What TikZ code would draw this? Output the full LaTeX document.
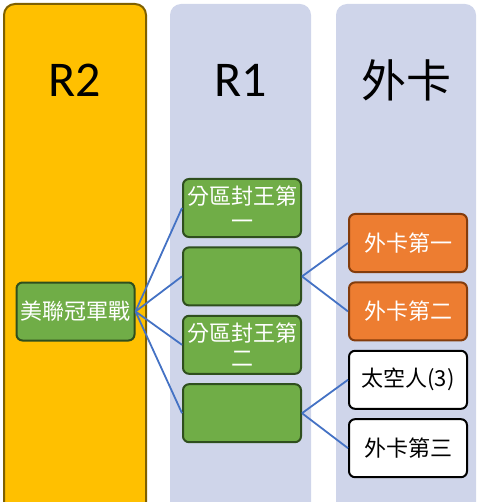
\documentclass[tikz,border=0pt]{standalone}
\usepackage{fontspec}
\setmainfont{Noto Sans CJK TC}
\newfontfamily\latinfont{Carlito}
\usetikzlibrary{positioning}
\definecolor{goldcol}{HTML}{FFC000}
\definecolor{goldline}{HTML}{7F6000}
\definecolor{lanecol}{HTML}{CFD5EA}
\definecolor{teamgreen}{HTML}{70AD47}
\definecolor{greenline}{HTML}{2F4F1E}
\definecolor{wildorange}{HTML}{ED7D31}
\definecolor{orangeline}{HTML}{843C0C}
\definecolor{linkblue}{HTML}{4472C4}

\begin{document}
\begin{tikzpicture} [
      x=1pt, y=-1pt,
      font=\fontsize{22}{25}\selectfont,
      node distance=8.4pt,
      lane/.style={rounded corners=11pt},
      title/.style={font=\latinfont\fontsize{50}{50}\selectfont},
      team/.style={rectangle, rounded corners=6pt, draw=greenline, line width=2pt, fill=teamgreen, text=white, minimum width=118pt, minimum height=58pt, align=center, inner sep=2pt},
      wild/.style={team, draw=orangeline, fill=wildorange},
      open/.style={team, draw=black, fill=white, text=black},
      link/.style={draw=linkblue, line width=1.8pt}
  ]
  \useasboundingbox (0,0) rectangle (477,502);
  \clip (0,0) rectangle (477,502);
  % lanes
  \fill[lane, lanecol] (170,4) rectangle (311,530);
  \fill[lane, lanecol] (336,4) rectangle (476,530);
  \filldraw[lane, fill=goldcol, draw=goldline, line width=2pt] (4,4) rectangle (146,530);
  \node[title] (r2) at (75,80) {R2};
  \node[title] (r1) at (241,80) {R1};
  \node[font=\fontsize{45}{45}\selectfont] (wc) at (406,80) {外卡};

  \node[team] (final) at (75.5,311.5) {美聯冠軍戰};
  \node[team] (div1) at (242,208) {分區封王第\\一};
  \node[team, below=of div1] (semi1) {};
  \node[team, below=of semi1] (div2) {分區封王第\\二};
  \node[team, below=of div2] (semi2) {};
  \node[wild] (wc1) at (408,243) {外卡第一};
  \node[wild, below=of wc1] (wc2) {外卡第二};
  \node[open, below=of wc2] (astros) {太空人(3)};
  \node[open, below=of astros] (wc3) {外卡第三};

  \draw[link] (final.east) -- (div1.west);
  \draw[link] (final.east) -- (semi1.west);
  \draw[link] (final.east) -- (div2.west);
  \draw[link] (final.east) -- (semi2.west);
  \draw[link] (semi1.east) -- (wc1.west);
  \draw[link] (semi1.east) -- (wc2.west);
  \draw[link] (semi2.east) -- (astros.west);
  \draw[link] (semi2.east) -- (wc3.west);
\end{tikzpicture}
\end{document}
